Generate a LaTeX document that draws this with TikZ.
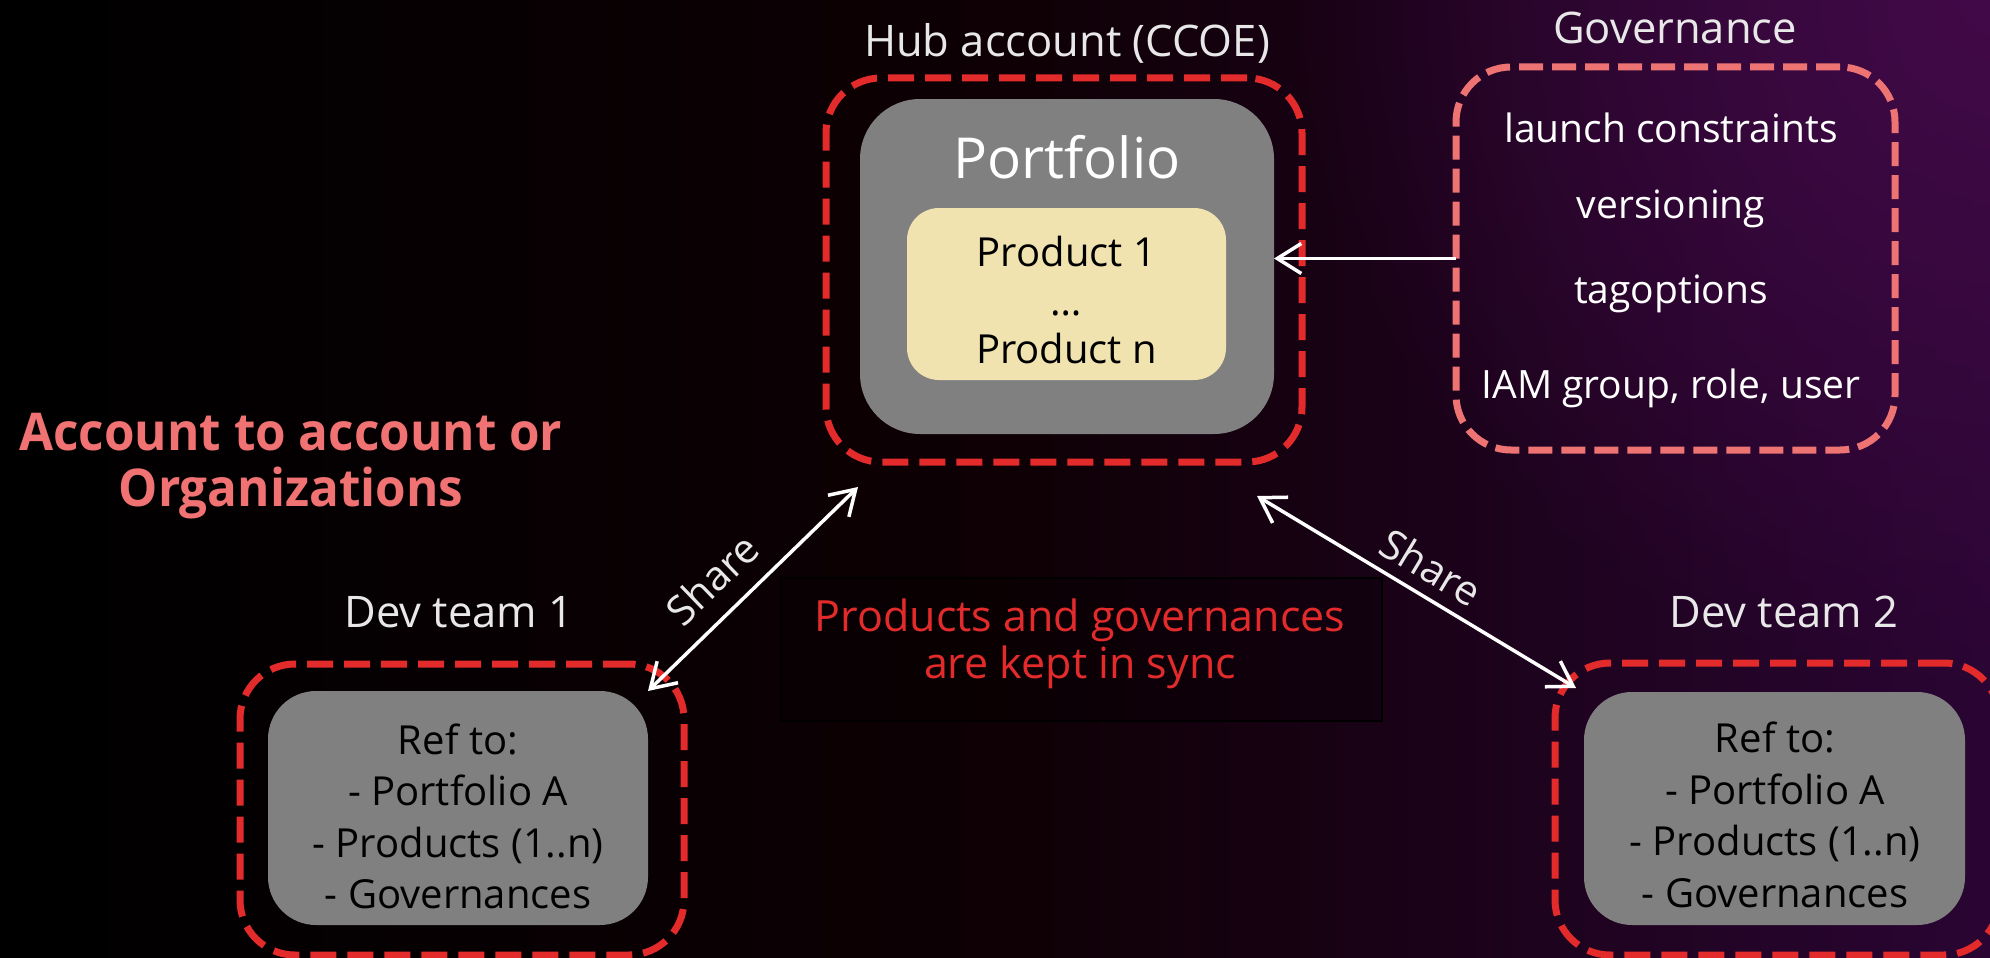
\documentclass[tikz,border=0pt]{standalone}
\usepackage{fontspec}
\setmainfont{Open Sans}
\newfontfamily\condbold{Open Sans}[FakeStretch=0.95]
\usetikzlibrary{arrows.meta,calc,fadings}

\definecolor{hubred}{HTML}{E32B2B}
\definecolor{govpink}{HTML}{EE7373}
\definecolor{boxgray}{HTML}{808080}
\definecolor{prodyellow}{HTML}{F0E3B0}
\definecolor{labelgray}{HTML}{E8E8E8}
\definecolor{titlepink}{HTML}{F07272}
\definecolor{bgmid}{HTML}{0E0004}
\definecolor{bgright}{HTML}{2A0533}
\definecolor{bgglow}{HTML}{420A48}

\tikzfading[name=glowfade, inner color=transparent!0, outer color=transparent!100]

\begin{document}
\begin{tikzpicture}[x=1pt,y=-1pt,
  lbl/.style={text=labelgray, inner sep=0pt, outer sep=0pt, font=\fontsize{43.5}{50}\selectfont},
  govitem/.style={text=white, inner sep=0pt, outer sep=0pt, font=\fontsize{39}{46}\selectfont},
  accbox/.style={rectangle, draw=hubred, line width=7pt, dash pattern=on 26pt off 11pt,
    rounded corners=55pt, inner sep=0pt, outer sep=0pt},
  govbox/.style={accbox, draw=govpink, dash pattern=on 24pt off 9pt},
  graybox/.style={rectangle, fill=boxgray, rounded corners=48pt, inner sep=0pt, outer sep=0pt},
  reftxt/.style={text=black, align=center, inner sep=0pt, outer sep=0pt,
    font=\fontsize{40}{51.5}\selectfont},
  sharearrow/.style={draw=white, line width=3.5pt,
    arrows={Straight Barb[length=24pt,width=30pt]-Straight Barb[length=24pt,width=30pt]}},
  feedarrow/.style={draw=white, line width=3.5pt, arrows={-Straight Barb[length=24pt,width=30pt]}},
  sharelbl/.style={text=labelgray, inner sep=0pt, outer sep=0pt, font=\fontsize{41}{46}\selectfont}
]
\useasboundingbox (0,0) rectangle (1990,958);
\begin{scope}
\clip (0,0) rectangle (1990,958);

% background
\shade[left color=black, right color=bgmid] (0,0) rectangle (1001,958);
\shade[left color=bgmid, right color=bgright] (1000,0) rectangle (1990,958);
\fill[bgglow, path fading=glowfade] (1990,0) circle (700);

% hub account
\node[lbl] (hublbl) at (1067,43) {Hub account (CCOE)};
\node[accbox, minimum width=476pt, minimum height=384pt] (hub) at (1064,270) {};
\node[graybox, minimum width=414pt, minimum height=335pt, rounded corners=60pt] (pf) at (1067,266.5) {};
\node[text=white, inner sep=0pt, font=\fontsize{56.5}{62}\selectfont] (pftitle) at (1067,157) {Portfolio};
\node[rectangle, fill=prodyellow, rounded corners=32pt, minimum width=319pt, minimum height=172pt,
  inner sep=0pt, outer sep=0pt] (prod) at (1066.5,294) {};
\node[text=black, align=center, inner sep=0pt, font=\fontsize{40}{48.5}\selectfont] (prodtxt)
  at (1066.5,300) {Product 1\\…\\Product n};

% governance
\node[lbl] (govlbl) at (1675,28) {Governance};
\node[govbox, minimum width=439pt, minimum height=383pt] (gov) at (1675.5,258.5) {};
\node[govitem] (g1) at (1671,128) {launch constraints};
\node[govitem] (g2) at (1671,209) {versioning};
\node[govitem] (g3) at (1671,294) {tagoptions};
\node[govitem] (g4) at (1671,388) {IAM group, role, user};
\draw[feedarrow] (gov.west) -- (gov.west -| pf.east);

% left heading
\node[text=titlepink, align=center, inner sep=0pt,
  font=\condbold\bfseries\fontsize{52}{56}\selectfont] (title) at (291,466)
  {Account to account or\\Organizations};

% dev team 1
\node[lbl] (dev1lbl) at (459,612) {Dev team 1};
\node[accbox, minimum width=444pt, minimum height=291pt] (dev1) at (462,809.5) {};
\node[graybox, minimum width=380pt, minimum height=234pt] (dev1ref) at (458,808) {};
\node[reftxt] (dev1txt) at (458,816.5) {Ref to:\\- Portfolio A\\- Products (1..n)\\- Governances};

% dev team 2
\node[lbl] (dev2lbl) at (1784,612) {Dev team 2};
\node[accbox, minimum width=444pt, minimum height=292pt] (dev2) at (1777,809) {};
\node[graybox, minimum width=381pt, minimum height=233pt] (dev2ref) at (1774.5,808.5) {};
\node[reftxt] (dev2txt) at (1775,815) {Ref to:\\- Portfolio A\\- Products (1..n)\\- Governances};

% sharing connectors
\coordinate (hubsw) at ($(hub.south west)+(32,25)$);
\coordinate (hubse) at ($(hub.south east)+(-45,34)$);
\coordinate (dev2in) at ($(dev2ref.north west)+(-8,-4)$);
\draw[sharearrow] (dev1ref.north east) -- (hubsw);
\draw[sharearrow] (hubse) -- (dev2in);
\node[sharelbl, rotate=44] (share1) at (712,579) {Share};
\node[sharelbl, rotate=-31] (share2) at (1431,567) {Share};

% sync note
\node[rectangle, draw=black, line width=1.5pt, fill=black, fill opacity=0.25,
  minimum width=601pt, minimum height=143pt, inner sep=0pt] (syncbox) at (1081.5,649.5) {};
\node[text=hubred, align=center, inner sep=0pt, font=\fontsize{43}{47}\selectfont] (synctxt)
  at (1080,644) {Products and governances\\are kept in sync};
\end{scope}
\end{tikzpicture}
\end{document}
